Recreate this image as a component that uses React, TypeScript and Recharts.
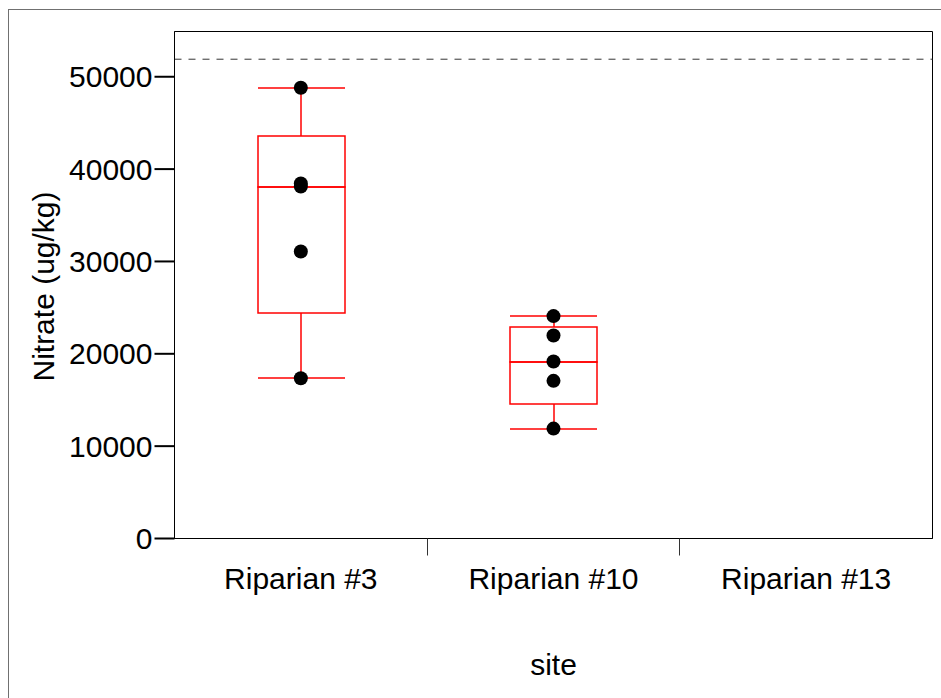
import React from 'react';
import { Bar, ComposedChart, ReferenceArea, ReferenceLine, Scatter, XAxis, YAxis } from 'recharts';

// nitrate by site: box summary + raw samples
const sites = ['Riparian #3', 'Riparian #10', 'Riparian #13'];
const whiskerLow: (number | null)[] = [17350, 11900, null];
const quartile1: (number | null)[] = [24370, 14610, null];
const medians: (number | null)[] = [38110, 19160, null];
const quartile3: (number | null)[] = [43600, 22850, null];
const whiskerHigh: (number | null)[] = [48810, 24080, null];
const samples: number[][] = [
  [48810, 38450, 38110, 31070, 17350],
  [24080, 21980, 19160, 17070, 11900],
  [],
];
const yTicks = [0, 10000, 20000, 30000, 40000, 50000];
const yMax = 54900;
const limitValue = 51900;

const RED = '#ff0000';
const BOX_STROKE = 1.5;
const FONT = '"Liberation Sans", Arial, sans-serif';
const X_TICK_SIZE = 27;
const X_TICK_MARGIN = 2;

const rows = sites.map((site, i) => {
  const row: Record<string, any> = { site };
  const lo = whiskerLow[i];
  if (lo != null) {
    row.base = lo;
    row.lowWhisker = (quartile1[i] as number) - lo;
    row.lowBox = (medians[i] as number) - (quartile1[i] as number);
    row.highBox = (quartile3[i] as number) - (medians[i] as number);
    row.highWhisker = (whiskerHigh[i] as number) - (quartile3[i] as number);
  }
  samples[i].forEach((v, j) => {
    row[`p${j}`] = v;
  });
  return row;
});

const pointKeys = ['p0', 'p1', 'p2', 'p3', 'p4'];

// red strokes sit on whole pixels so they spread evenly over two rows/columns
const snap = (v: number) => Math.round(v);
const px = (v: number) => Math.round(v - 0.5) + 0.5;

const LowWhisker = (props: any) => {
  const { x, y, width, height } = props;
  if (!height || !Number.isFinite(y)) return null;
  const cx = snap(x + width / 2);
  const top = snap(y);
  const bottom = snap(y + height);
  return (
    <g stroke={RED} strokeWidth={BOX_STROKE}>
      <line x1={cx} x2={cx} y1={top} y2={bottom} />
      <line x1={snap(x)} x2={snap(x + width)} y1={bottom} y2={bottom} />
    </g>
  );
};

const HighWhisker = (props: any) => {
  const { x, y, width, height } = props;
  if (!height || !Number.isFinite(y)) return null;
  const cx = snap(x + width / 2);
  const top = snap(y);
  return (
    <g stroke={RED} strokeWidth={BOX_STROKE}>
      <line x1={cx} x2={cx} y1={top} y2={snap(y + height)} />
      <line x1={snap(x)} x2={snap(x + width)} y1={top} y2={top} />
    </g>
  );
};

const BoxPart = (props: any) => {
  const { x, y, width, height } = props;
  if (!height || !Number.isFinite(y)) return null;
  const left = snap(x);
  const right = snap(x + width);
  const top = snap(y);
  const bottom = snap(y + height);
  return (
    <rect
      x={left}
      y={top}
      width={right - left}
      height={bottom - top}
      fill="none"
      stroke={RED}
      strokeWidth={BOX_STROKE}
    />
  );
};

const Dot = (props: any) => {
  const { cx, cy } = props;
  if (!Number.isFinite(cx) || !Number.isFinite(cy)) return null;
  return <circle cx={cx} cy={cy} r={7} fill="#000" />;
};

// site label plus a short divider tick at the right edge of each band
const SiteTick = (props: any) => {
  const { x, y, payload, index, visibleTicksCount, width } = props;
  const half =
    payload && Number.isFinite(payload.offset) && payload.offset > 0
      ? payload.offset
      : width / visibleTicksCount / 2;
  const axisY = y - X_TICK_SIZE - X_TICK_MARGIN;
  const lx = px(x + half);
  return (
    <g>
      <text
        x={x}
        y={y}
        dy="0.71em"
        textAnchor="middle"
        fontSize={30}
        fontFamily={FONT}
        fill="#000"
      >
        {payload.value}
      </text>
      {index < visibleTicksCount - 1 && (
        <line x1={lx} x2={lx} y1={axisY} y2={axisY + 17} stroke="#333" />
      )}
    </g>
  );
};

const YTitle = (props: any) => {
  const vb = props.viewBox;
  const cy = vb.y + vb.height / 2 + 1.5;
  return (
    <text
      x={44.5}
      y={cy}
      transform={`rotate(-90, 44.5, ${cy})`}
      textAnchor="middle"
      fontSize={30}
      fontFamily={FONT}
      fill="#000"
    >
      Nitrate (ug/kg)
    </text>
  );
};

const XTitle = (props: any) => {
  const vb = props.viewBox;
  return (
    <text
      x={vb.x + vb.width / 2}
      y={vb.y + 136.5}
      textAnchor="middle"
      fontSize={30}
      fontFamily={FONT}
      fill="#000"
    >
      site
    </text>
  );
};

export default function App() {
  return (
    <div style={{ position: 'relative', width: 941, height: 698, overflow: 'hidden' }}>
      <style>{'body{margin:0;overflow:hidden}'}</style>
      <div
        style={{
          position: 'absolute',
          left: 8,
          top: 9,
          width: 2000,
          height: 2000,
          borderTop: '1px solid #707070',
          borderLeft: '1px solid #707070',
        }}
      />
      <div style={{ position: 'absolute', left: 9, top: 10 }}>
        <ComposedChart
          width={932}
          height={688}
          data={rows}
          margin={{ top: 21.5, right: 8.5, bottom: 0, left: 0 }}
          barSize={87}
        >
          <XAxis
            xAxisId="site"
            dataKey="site"
            height={159.5}
            axisLine={{ stroke: '#000' }}
            tickLine={false}
            tickSize={X_TICK_SIZE}
            tickMargin={X_TICK_MARGIN}
            tick={SiteTick}
            label={XTitle}
          />
          <YAxis
            domain={[0, yMax]}
            ticks={yTicks}
            width={165.5}
            axisLine={{ stroke: '#000' }}
            tickLine={{ stroke: '#000', strokeWidth: 2 }}
            tickSize={20}
            tickMargin={2}
            tick={{ fontSize: 30, fontFamily: FONT, fill: '#000' }}
            label={YTitle}
          />
          {/* plot frame */}
          <ReferenceArea
            xAxisId="site"
            x1={sites[0]}
            x2={sites[sites.length - 1]}
            y1={0}
            y2={yMax}
            fill="none"
            stroke="#000"
            ifOverflow="visible"
          />
          <ReferenceLine
            xAxisId="site"
            y={limitValue}
            stroke="#333"
            strokeDasharray="7 7"
          />
          <Bar xAxisId="site" dataKey="base" stackId="box" fill="transparent" isAnimationActive={false} />
          <Bar xAxisId="site" dataKey="lowWhisker" stackId="box" shape={LowWhisker} isAnimationActive={false} />
          <Bar xAxisId="site" dataKey="lowBox" stackId="box" shape={BoxPart} isAnimationActive={false} />
          <Bar xAxisId="site" dataKey="highBox" stackId="box" shape={BoxPart} isAnimationActive={false} />
          <Bar xAxisId="site" dataKey="highWhisker" stackId="box" shape={HighWhisker} isAnimationActive={false} />
          {pointKeys.map((k) => (
            <Scatter key={k} xAxisId="site" dataKey={k} shape={Dot} isAnimationActive={false} />
          ))}
        </ComposedChart>
      </div>
    </div>
  );
}
